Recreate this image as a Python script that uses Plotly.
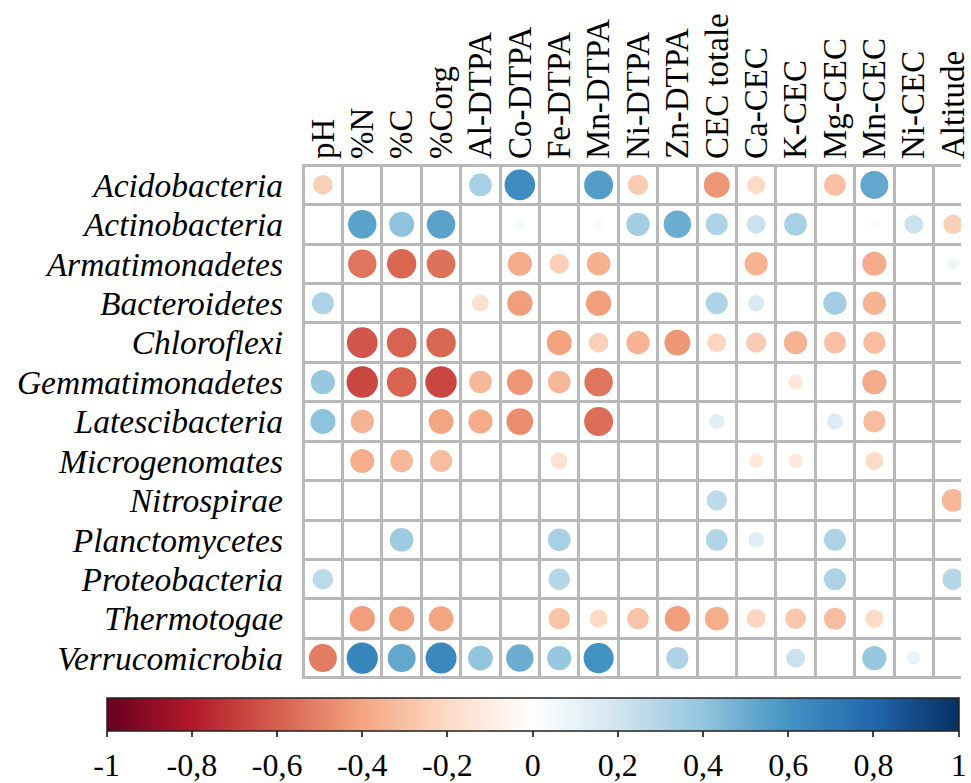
import plotly.graph_objects as go

variables = ["pH", "%N", "%C", "%Corg", "Al-DTPA", "Co-DTPA", "Fe-DTPA", "Mn-DTPA",
             "Ni-DTPA", "Zn-DTPA", "CEC totale", "Ca-CEC", "K-CEC", "Mg-CEC",
             "Mn-CEC", "Ni-CEC", "Altitude"]

phyla = ["Acidobacteria", "Actinobacteria", "Armatimonadetes", "Bacteroidetes",
         "Chloroflexi", "Gemmatimonadetes", "Latescibacteria", "Microgenomates",
         "Nitrospirae", "Planctomycetes", "Proteobacteria", "Thermotogae",
         "Verrucomicrobia"]

N = None
#                 pH    %N     %C     %Corg  Al     Co     Fe     Mn     Ni     Zn     CEC    Ca     K      Mg     MnC    NiC    Alt
acidobacteria   = [-0.24, N,     N,     N,     0.33,  0.63,  N,     0.56, -0.26,  N,    -0.44, -0.20,  N,    -0.30,  0.52,  N,     N]
actinobacteria  = [N,     0.54,  0.41,  0.54,  N,     0.05,  N,     0.04,  0.35,  0.50,  0.31,  0.22,  0.33,  N,     0.03,  0.22, -0.24]
armatimonadetes = [N,    -0.54, -0.58, -0.55,  N,    -0.38, -0.24, -0.36,  N,     N,     N,    -0.35,  N,     N,    -0.38,  N,     0.07]
bacteroidetes   = [0.31,  N,     N,     N,    -0.17, -0.42,  N,    -0.42,  N,     N,     0.31,  0.16,  N,     0.35, -0.35,  N,     N]
chloroflexi     = [N,    -0.63, -0.59, -0.58,  N,     N,    -0.41, -0.24, -0.35, -0.44, -0.22, -0.26, -0.35, -0.30, -0.31,  N,     N]
gemmatimonadetes= [0.38, -0.67, -0.59, -0.67, -0.33, -0.44, -0.33, -0.54,  N,     N,     N,     N,    -0.13,  N,    -0.38,  N,     N]
latescibacteria = [0.41, -0.35,  N,    -0.40, -0.38, -0.47,  N,    -0.56,  N,     N,     0.13,  N,     N,     0.15, -0.31,  N,     N]
microgenomates  = [N,    -0.37, -0.33, -0.31,  N,     N,    -0.17,  N,     N,     N,     N,    -0.12, -0.12,  N,    -0.20,  N,     N]
nitrospirae     = [N,     N,     N,     N,     N,     N,     N,     N,     N,     N,     0.26,  N,     N,     N,     N,     N,    -0.33]
planctomycetes  = [N,     N,     0.36,  N,     N,     N,     0.33,  N,     N,     N,     0.30,  0.14,  N,     0.31,  N,     N,     N]
proteobacteria  = [0.27,  N,     N,     N,     N,     N,     0.29,  N,     N,     N,     N,     N,     N,     0.31,  N,     N,     0.29]
thermotogae     = [N,    -0.42, -0.41, -0.40,  N,     N,    -0.29, -0.20, -0.29, -0.42, -0.37, -0.22, -0.27, -0.31, -0.20,  N,     N]
verrucomicrobia = [-0.52, 0.66,  0.52,  0.65,  0.40,  0.50,  0.38,  0.61,  N,     0.31,  N,     N,     0.22,  N,     0.38,  0.10,  N]

rows = [acidobacteria, actinobacteria, armatimonadetes, bacteroidetes, chloroflexi,
        gemmatimonadetes, latescibacteria, microgenomates, nitrospirae, planctomycetes,
        proteobacteria, thermotogae, verrucomicrobia]

cbar_ticks = [-1, -0.8, -0.6, -0.4, -0.2, 0, 0.2, 0.4, 0.6, 0.8, 1]
cbar_labels = ["-1", "-0,8", "-0,6", "-0,4", "-0,2", "0", "0,2", "0,4", "0,6", "0,8", "1"]

palette = ["#67001F", "#B2182B", "#D6604D", "#F4A582", "#FDDBC7", "#FFFFFF",
           "#D1E5F0", "#92C5DE", "#4393C3", "#2166AC", "#053061"]
colorscale = [[i / 10, c] for i, c in enumerate(palette)]

xs, ys, vals = [], [], []
for ri, row in enumerate(rows):
    for ci, v in enumerate(row):
        if v is not None:
            xs.append(ci)
            ys.append(ri)
            vals.append(v)

CELL = 40
# corrplot-style circles: area proportional to |r|, plus a thin same-colour border
sizes = [0.9 * CELL * abs(v) ** 0.5 + 2 for v in vals]

font_family = "Liberation Serif, Times New Roman, serif"

fig = go.Figure()
fig.add_trace(go.Scatter(
    x=xs, y=ys, mode="markers",
    marker=dict(
        size=sizes, color=vals, colorscale=colorscale, cmin=-1, cmax=1,
        opacity=1, line=dict(width=0),
        colorbar=dict(
            orientation="h", lenmode="pixels", len=852, thickness=33,
            x=0.35, xanchor="center", y=-0.036, yanchor="top",
            xpad=0, ypad=0,
            outlinecolor="#222222", outlinewidth=1.5,
            tickmode="array", tickvals=cbar_ticks, ticktext=cbar_labels,
            ticks="outside", ticklen=6, tickwidth=1.5, tickcolor="#444444",
            tickfont=dict(family=font_family, size=32, color="black"),
        ),
    ),
    hoverinfo="skip", showlegend=False, cliponaxis=True,
))

grid = dict(showgrid=True, gridcolor="#b9b9b9", gridwidth=2.5,
            tickmode="linear", tick0=-0.5, dtick=1, ticks="")

fig.update_layout(
    width=971, height=783,
    margin=dict(l=301.8, r=0, t=163.8, b=96.8, pad=0),
    paper_bgcolor="white", plot_bgcolor="white",
    font=dict(family=font_family, color="black"),
    xaxis=dict(
        side="top", range=[-0.53, 16.2], tickmode="array",
        tickvals=list(range(len(variables))), ticktext=variables,
        tickangle=-90, showgrid=False, zeroline=False, showline=False,
        ticks="", ticklabeloverflow="allow", ticklabelstandoff=4,
        tickfont=dict(family=font_family, size=33, color="black"),
        minor=grid, fixedrange=True,
    ),
    yaxis=dict(
        range=[12.53, -0.53], tickmode="array",
        tickvals=list(range(len(phyla))), ticktext=phyla,
        showgrid=False, zeroline=False, showline=False, ticks="",
        ticklabelstandoff=18,
        tickfont=dict(family=font_family, size=33.5, color="black", style="italic"),
        minor=grid, fixedrange=True,
    ),
)

fig.write_html(
    "out.html",
    config={"displayModeBar": False},
    post_script="document.body.style.margin='0';document.body.style.overflow='hidden';",
)
